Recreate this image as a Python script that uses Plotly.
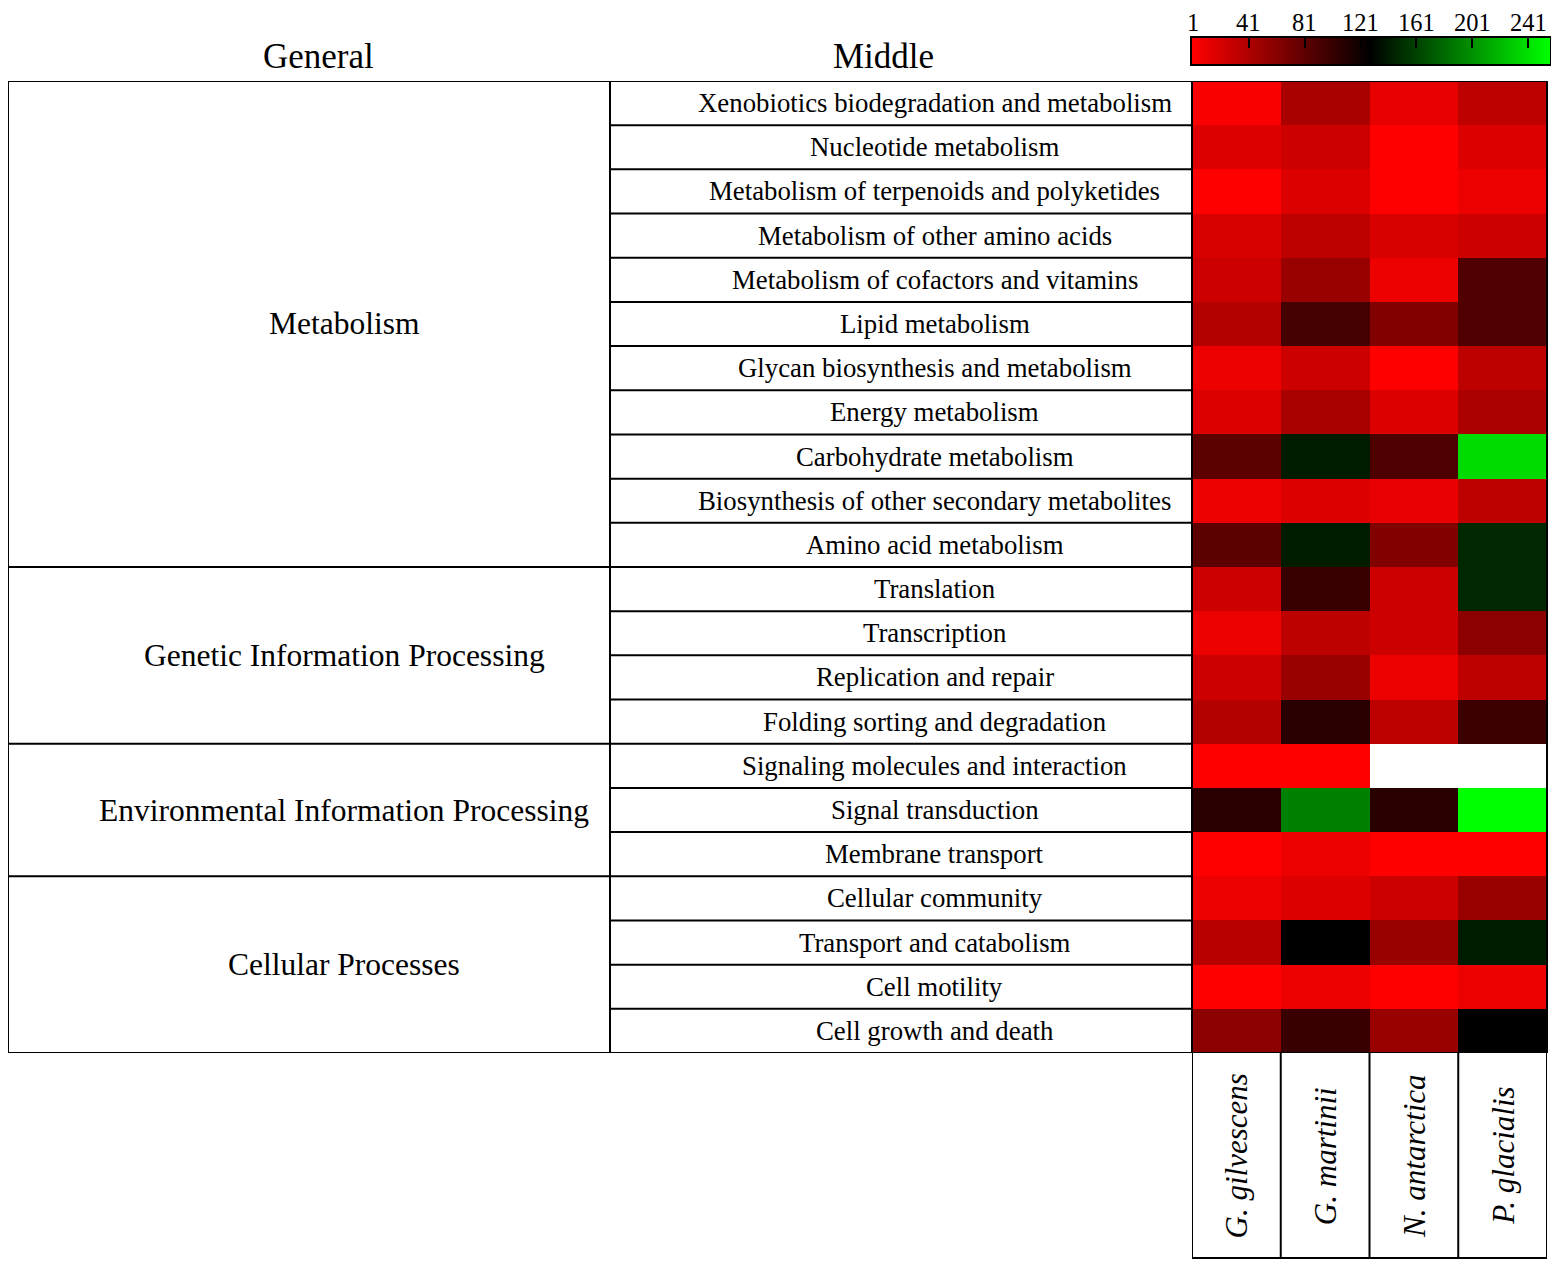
import plotly.graph_objects as go

# ---------------- data ----------------
species = ["G. gilvescens", "G. martinii", "N. antarctica", "P. glacialis"]

middle_labels = [
    "Xenobiotics biodegradation and metabolism",
    "Nucleotide metabolism",
    "Metabolism of terpenoids and polyketides",
    "Metabolism of other amino acids",
    "Metabolism of cofactors and vitamins",
    "Lipid metabolism",
    "Glycan biosynthesis and metabolism",
    "Energy metabolism",
    "Carbohydrate metabolism",
    "Biosynthesis of other secondary metabolites",
    "Amino acid metabolism",
    "Translation",
    "Transcription",
    "Replication and repair",
    "Folding sorting and degradation",
    "Signaling molecules and interaction",
    "Signal transduction",
    "Membrane transport",
    "Cellular community",
    "Transport and catabolism",
    "Cell motility",
    "Cell growth and death",
]

general_groups = ["Metabolism", "Genetic Information Processing",
                  "Environmental Information Processing", "Cellular Processes"]
group_sizes = [11, 4, 3, 4]

# rank values (1 = red, ~128 = black, 256 = green)
g_gilvescens = [3, 18, 1, 20, 26, 38, 10, 18, 82, 10, 82,
                26, 10, 26, 38, 1, 108, 1, 10, 36, 1, 58]
g_martinii   = [44, 26, 18, 34, 52, 94, 26, 44, 142, 18, 142,
                100, 34, 52, 108, 1, 192, 10, 18, 128, 10, 100]
n_antarctica = [13, 1, 1, 20, 10, 64, 1, 18, 90, 12, 64,
                26, 26, 10, 34, None, 108, 1, 26, 52, 1, 52]
p_glacialis  = [34, 18, 10, 26, 88, 88, 34, 42, 238, 34, 148,
                148, 58, 34, 98, None, 256, 1, 52, 142, 10, 128]

scale_ticks = [1, 41, 81, 121, 161, 201, 241]
scale_values = list(range(1, 257))

# ---------------- layout helpers ----------------
W, H = 1559, 1269
OFF = 8                      # browser body margin
FW, FH = W - 2 * OFF, H - 2 * OFF
def px(x):
    return (x - OFF) / FW
def py(y):
    return 1 - (y - OFF) / FH

FONT = "Liberation Serif"
LW = 2

colorscale = [[0.0, "rgb(255,0,0)"], [127 / 255, "rgb(0,0,0)"], [1.0, "rgb(0,255,0)"]]

n_rows = len(middle_labels)
z = [[g_gilvescens[i], g_martinii[i], n_antarctica[i], p_glacialis[i]] for i in range(n_rows)]

fig = go.Figure()
fig.add_trace(go.Heatmap(
    z=z, x=list(range(len(species))), y=list(range(n_rows)),
    colorscale=colorscale, zmin=1, zmax=256, showscale=False,
    xaxis="x", yaxis="y", hoverongaps=False,
))
# colour key
fig.add_trace(go.Heatmap(
    z=[scale_values], x=scale_values, y=[0],
    colorscale=colorscale, zmin=1, zmax=256, showscale=False,
    xaxis="x2", yaxis="y2",
))

shapes = []
def line(x0, y0, x1, y1, xref="paper", yref="y"):
    shapes.append(dict(type="line", x0=x0, y0=y0, x1=x1, y1=y1, xref=xref, yref=yref,
                       line=dict(color="black", width=LW)))

top, bot = -0.5, n_rows - 0.5
line(px(8), top, px(1547), top)
line(px(8), bot, px(1547), bot)
for xx in [8, 610, 1192, 1547]:
    line(px(xx), top, px(xx), bot)
for i in range(1, n_rows):
    line(px(610), i - 0.5, px(1192), i - 0.5)
cum = 0
for s in group_sizes[:-1]:
    cum += s
    line(px(8), cum - 0.5, px(610), cum - 0.5)
for j in range(len(species) + 1):
    line(j - 0.5, py(1053), j - 0.5, py(1258), xref="x", yref="paper")
line(-0.5, py(1258), len(species) - 0.5, py(1258), xref="x", yref="paper")

annotations = []
def ann(text, x, y, size, xref="paper", yref="paper", angle=0, pad=1):
    annotations.append(dict(text=text, x=x, y=y, xref=xref, yref=yref,
                            xanchor="center", yanchor="middle", textangle=angle,
                            showarrow=False, borderpad=pad,
                            font=dict(family=FONT, size=size, color="black")))

ann("General", px(318), py(56), 35)
ann("Middle", px(884), py(56), 35)
for i, lab in enumerate(middle_labels):
    ann(lab, px(935), i, 26.8, yref="y")
start = 0
for g, s in zip(general_groups, group_sizes):
    ann(g, px(344), start + (s - 1) / 2, 31.5, yref="y")
    start += s
for j, sp in enumerate(species):
    ann("<i>%s</i>" % sp, j, py(1156), 31, xref="x", angle=-90)
# colour-key tick labels
for t in scale_ticks:
    ann(str(t), t, py(23), 24.5, xref="x2", pad=0)

fig.update_layout(
    width=FW, height=FH,
    margin=dict(l=0, r=0, t=0, b=0, autoexpand=False),
    paper_bgcolor="white", plot_bgcolor="white",
    xaxis=dict(domain=[px(1192), px(1547)], range=[-0.5, len(species) - 0.5],
               showticklabels=False, showgrid=False, zeroline=False, ticks="", anchor="y",
               automargin=False),
    yaxis=dict(domain=[py(1053), py(81)], range=[n_rows - 0.5, -0.5],
               showticklabels=False, showgrid=False, zeroline=False, ticks="", anchor="x",
               automargin=False),
    xaxis2=dict(domain=[px(1192), px(1550)], range=[0.5, 256.5], anchor="y2", side="top",
                tickvals=scale_ticks, showticklabels=False,
                ticks="inside", ticklen=10, tickwidth=2, tickcolor="black",
                automargin=False,
                showline=True, mirror=True, linewidth=2, linecolor="black",
                showgrid=False, zeroline=False),
    yaxis2=dict(domain=[py(64), py(38)], range=[-0.5, 0.5], anchor="x2",
                showticklabels=False, showgrid=False, zeroline=False, ticks="",
                showline=True, mirror=True, linewidth=2, linecolor="black",
                automargin=False),
    shapes=shapes,
    annotations=annotations,
    showlegend=False,
)

fig.write_html("out.html")
